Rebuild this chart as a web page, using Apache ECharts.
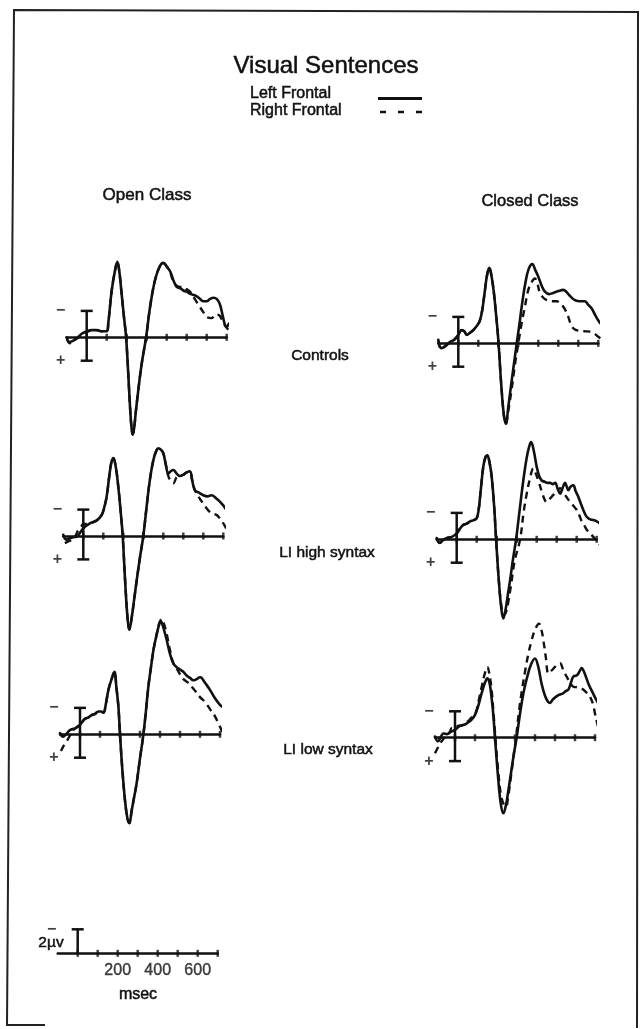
<!DOCTYPE html>
<html><head><meta charset="utf-8">
<script src="https://cdn.jsdelivr.net/npm/echarts@6/dist/echarts.min.js"></script>
<style>html,body{margin:0;padding:0;background:#fff}#c{width:642px;height:1029px}</style>
</head><body><div id="c"></div>
<script>
// ---- data: time (ms) vs amplitude (µV, negative plotted up) ----
const tickTimes = [0, 100, 200, 300, 400, 500, 600, 700];
const scaleLabels = [200, 400, 600];
const calBar = [-2.2, 1.95];     // calibration bar in each panel (µV)
const scaleBar = [-2, 0];        // 2 µV calibration in the scale key
const columns = ['Open Class', 'Closed Class'];
const rows = ['Controls', 'LI high syntax', 'LI low syntax'];
const seriesNames = ['Left Frontal', 'Right Frontal'];

const openControlsLeft = [[-100,0],[-85,0.4],[-70,0.3],[-50,0.1],[-25,-0.3],[0,-0.5],[25,-0.6],[50,-0.6],[75,-0.5],[100,-0.5],[108,-1.2],[125,-3.9],[142,-5.6],[153,-6.3],[163,-5.5],[173,-3.9],[185,-1.9],[197,0],[207,2.8],[217,5.9],[225,7.7],[230,8.1],[237,7.6],[245,6.3],[258,4.4],[275,2.2],[297,0],[317,-2.55],[342,-4.8],[365,-5.9],[383,-6.2],[400,-5.9],[417,-5.5],[435,-4.7],[450,-4.2],[467,-4.1],[483,-3.9],[500,-3.8],[520,-3.6],[540,-3.5],[560,-3.3],[583,-3.0],[600,-3.0],[617,-3.2],[635,-3.3],[650,-3.2],[665,-2.8],[680,-1.8],[692,-1.0],[700,-0.85],[710,-1.1],[725,-1.3],[750,-1.3]];
const openControlsRight = [[-100,0.1],[-85,0.5],[-70,0.3],[-50,0.1],[-25,-0.2],[0,-0.4],[25,-0.6],[50,-0.6],[75,-0.5],[100,-0.5],[108,-1.2],[125,-3.9],[142,-5.6],[153,-6.3],[163,-5.5],[173,-3.9],[185,-1.9],[197,0],[207,2.8],[217,5.9],[225,7.7],[230,8.1],[237,7.6],[245,6.3],[258,4.4],[275,2.2],[297,0],[317,-2.55],[342,-4.8],[365,-5.9],[383,-6.2],[400,-5.9],[417,-5.4],[435,-4.6],[450,-4.3],[467,-4.2],[483,-4.2],[500,-4.0],[517,-3.8],[540,-3.2],[567,-2.5],[583,-2.1],[600,-1.7],[625,-1.6],[645,-1.9],[665,-1.8],[680,-1.3],[700,-0.8],[720,-0.5],[750,-0.4]];

const closedControlsLeft = [[-100,-0.3],[-85,0.4],[-70,0.3],[-42,-0.1],[-20,-0.3],[0,-0.7],[17,-1.1],[30,-1.0],[42,-0.7],[60,-0.9],[75,-1.1],[95,-1.5],[108,-1.9],[120,-2.8],[133,-4.4],[145,-5.8],[155,-6.3],[166,-5.6],[178,-4.2],[190,-2.2],[200,-0.3],[215,3.5],[228,6.0],[238,6.7],[250,5.3],[267,3.1],[280,1.5],[292,0],[305,-1.5],[317,-3.05],[335,-5.0],[352,-6.2],[370,-6.6],[385,-6.1],[400,-5.55],[417,-4.8],[433,-4.3],[455,-4.1],[475,-4.2],[500,-4.35],[525,-4.45],[540,-4.3],[555,-4.0],[583,-3.6],[610,-3.5],[633,-3.5],[650,-3.2],[667,-2.9],[683,-2.4],[700,-1.9],[725,-1.4],[750,-1.1]];
const closedControlsRight = [[-100,-0.2],[-85,0.5],[-70,0.3],[-42,-0.1],[-20,-0.3],[0,-0.7],[17,-1.1],[30,-1.0],[42,-0.7],[60,-0.9],[75,-1.1],[95,-1.5],[108,-1.9],[120,-2.8],[133,-4.4],[145,-5.8],[155,-6.3],[166,-5.6],[178,-4.2],[190,-2.2],[200,-0.3],[215,3.5],[228,6.0],[238,6.7],[250,5.6],[267,3.8],[283,1.8],[300,0],[317,-1.7],[333,-3.05],[350,-4.45],[367,-5.1],[383,-5.4],[395,-5.0],[408,-4.2],[425,-3.8],[442,-3.6],[467,-3.5],[492,-3.5],[510,-3.3],[525,-3.05],[540,-2.6],[550,-2.2],[562,-1.6],[575,-1.25],[590,-1.1],[608,-1.05],[633,-1.0],[658,-0.97],[680,-0.8],[700,-0.55],[720,-0.3],[742,-0.1]];

const openHighLeft = [[-100,-0.1],[-85,0.3],[-70,0.2],[-50,0.1],[-33,0.05],[-15,-0.3],[0,-0.65],[33,-1.05],[67,-1.3],[92,-1.75],[105,-2.4],[117,-3.3],[130,-5.0],[140,-6.1],[150,-6.5],[162,-5.8],[175,-4.1],[187,-2.0],[197,0],[210,4.0],[222,7.0],[230,7.8],[242,6.8],[255,5.2],[267,3.7],[285,1.6],[300,0],[317,-2.5],[333,-4.7],[350,-6.3],[365,-7.1],[375,-7.3],[388,-7.2],[400,-6.9],[412,-6.0],[425,-5.2],[437,-5.4],[450,-5.5],[467,-5.2],[483,-5.0],[500,-5.1],[517,-5.3],[533,-5.4],[545,-4.6],[558,-3.8],[580,-3.6],[600,-3.4],[620,-3.3],[642,-3.4],[667,-3.1],[692,-2.7],[715,-2.2],[733,-1.75],[758,-1.7]];
const openHighRight = [[-92,0.6],[-75,0.45],[-58,0.33],[-40,0],[-25,-0.5],[-10,-0.8],[0,-1.0],[17,-1.0],[33,-1.05],[67,-1.3],[92,-1.75],[105,-2.4],[117,-3.3],[130,-5.0],[140,-6.1],[150,-6.5],[162,-5.8],[175,-4.1],[187,-2.0],[197,0],[210,4.0],[222,7.0],[230,7.8],[242,6.8],[255,5.2],[267,3.7],[285,1.6],[300,0],[317,-2.5],[333,-4.7],[350,-6.3],[365,-7.1],[375,-7.3],[388,-7.2],[400,-6.9],[412,-6.0],[425,-5.0],[437,-4.6],[450,-4.4],[467,-4.9],[483,-5.0],[500,-5.1],[517,-5.3],[533,-5.3],[545,-4.6],[558,-3.8],[567,-3.55],[583,-3.1],[600,-2.7],[617,-2.3],[633,-2.0],[650,-1.85],[667,-1.75],[685,-1.4],[700,-1.05],[720,-0.5],[742,0.05]];

const closedHighLeft = [[-100,-0.1],[-85,0.3],[-70,0.1],[-50,-0.1],[-25,-0.2],[0,-0.5],[17,-0.9],[33,-1.2],[50,-1.3],[67,-1.5],[85,-1.6],[100,-1.75],[110,-2.5],[117,-3.55],[125,-4.9],[133,-6.05],[143,-6.8],[153,-7.0],[163,-6.5],[175,-5.2],[187,-2.8],[197,0],[210,3.3],[222,5.6],[233,6.6],[245,5.8],[255,4.7],[267,3.4],[282,1.6],[297,0],[313,-2.2],[333,-4.9],[350,-6.8],[362,-7.7],[372,-8.1],[385,-7.4],[400,-6.05],[412,-5.3],[425,-4.9],[440,-4.8],[455,-4.7],[467,-4.7],[480,-4.6],[492,-4.7],[505,-4.2],[517,-3.8],[530,-4.3],[542,-4.7],[550,-4.4],[558,-4.1],[570,-4.4],[583,-4.5],[595,-4.0],[608,-3.55],[620,-3.0],[633,-2.45],[645,-2.0],[658,-1.75],[670,-1.65],[683,-1.6],[700,-1.5],[717,-1.3],[735,-1.0],[750,-0.8]];
const closedHighRight = [[-100,-0.1],[-85,0.3],[-70,0.1],[-50,-0.1],[-25,-0.2],[0,-0.5],[17,-0.9],[33,-1.2],[50,-1.3],[67,-1.5],[85,-1.6],[100,-1.75],[110,-2.5],[117,-3.55],[125,-4.9],[133,-6.05],[143,-6.8],[153,-7.0],[163,-6.5],[175,-5.2],[187,-2.8],[197,0],[210,3.3],[222,5.4],[235,6.3],[248,6.0],[258,5.2],[270,4.0],[290,1.8],[317,0],[335,-2.3],[350,-3.8],[367,-5.1],[383,-5.9],[395,-5.5],[408,-4.9],[425,-4.0],[440,-3.3],[450,-3.1],[467,-3.4],[483,-3.7],[500,-4.0],[517,-4.25],[530,-4.0],[550,-3.5],[567,-3.1],[583,-2.8],[600,-2.45],[613,-2.0],[625,-1.5],[640,-1.1],[650,-0.8],[667,-0.5],[683,-0.2],[700,0.15],[717,0.5],[735,0.9],[750,1.3]];

const openLowLeft = [[-100,-0.1],[-85,0.2],[-70,0],[-50,-0.35],[-25,-0.5],[0,-0.8],[25,-1.3],[42,-1.4],[58,-1.6],[75,-1.7],[92,-1.9],[105,-1.9],[117,-1.8],[130,-2.6],[142,-3.7],[158,-4.6],[172,-5.2],[182,-3.9],[192,-2.3],[200,0],[212,3.0],[225,5.5],[237,7.0],[247,7.4],[258,6.4],[270,5.3],[283,4.1],[300,2.0],[317,0],[330,-2.0],[342,-4.0],[355,-5.6],[367,-7.0],[383,-8.3],[397,-9.2],[405,-9.4],[415,-9.0],[425,-8.4],[433,-7.9],[450,-6.7],[467,-5.9],[483,-5.6],[500,-5.4],[517,-5.2],[533,-4.9],[550,-4.7],[567,-4.5],[583,-4.6],[600,-4.75],[608,-4.7],[625,-4.3],[650,-3.7],[675,-3.0],[700,-2.45],[715,-2.25],[725,-2.15],[740,-1.5],[750,-1.05]];
const openLowRight = [[-95,1.4],[-80,0.9],[-67,0.6],[-50,0.1],[-33,-0.35],[-15,-0.6],[0,-0.8],[25,-1.3],[42,-1.4],[58,-1.6],[75,-1.7],[92,-1.9],[105,-1.9],[117,-1.8],[130,-2.6],[142,-3.7],[158,-4.6],[172,-5.2],[182,-3.9],[192,-2.3],[200,0],[212,3.0],[225,5.5],[237,7.0],[247,7.4],[258,6.4],[270,5.3],[283,4.1],[300,2.0],[317,0],[330,-2.0],[342,-4.0],[355,-5.6],[367,-7.0],[383,-8.3],[397,-9.3],[410,-9.6],[420,-9.2],[433,-8.4],[450,-7.0],[467,-5.9],[483,-5.5],[500,-5.0],[517,-4.6],[540,-4.3],[567,-3.8],[600,-3.1],[625,-2.7],[650,-2.1],[675,-1.5],[692,-0.9],[708,-0.35],[725,0.2],[742,0.75]];

const closedLowLeft = [[-100,-0.1],[-85,0.3],[-70,-0.1],[-58,-0.35],[-40,-0.3],[-20,-0.5],[0,-0.65],[17,-0.9],[33,-1.05],[50,-1.1],[67,-1.3],[83,-1.5],[100,-1.9],[117,-2.7],[133,-3.7],[150,-4.6],[162,-4.95],[172,-4.6],[178,-4.0],[190,-2.2],[200,0],[213,2.8],[228,5.4],[242,6.3],[255,5.6],[265,4.6],[275,3.5],[292,1.6],[308,0],[325,-2.0],[342,-3.7],[360,-5.0],[380,-6.1],[400,-6.6],[415,-6.0],[433,-4.5],[450,-3.5],[465,-3.0],[475,-2.9],[490,-3.2],[517,-3.55],[540,-3.7],[555,-3.9],[567,-4.0],[580,-4.6],[592,-5.1],[610,-5.2],[625,-5.6],[633,-5.8],[645,-5.5],[667,-4.5],[690,-3.7],[708,-3.1],[725,-2.6],[742,-2.0]];
const closedLowRight = [[-100,1.3],[-88,0.9],[-75,0.5],[-58,0.1],[-42,-0.2],[-25,-0.5],[-17,-0.8],[0,-0.8],[17,-1.0],[33,-1.0],[50,-1.2],[67,-1.4],[83,-1.7],[100,-2.0],[108,-2.3],[120,-3.2],[133,-4.2],[150,-5.4],[162,-5.9],[172,-5.3],[183,-4.0],[192,-2.2],[202,0],[215,2.6],[230,4.8],[245,5.6],[255,5.75],[265,5.0],[277,3.6],[293,1.5],[305,0],[320,-2.2],[335,-4.0],[350,-5.5],[367,-7.0],[383,-8.1],[400,-9.0],[420,-9.5],[432,-9.0],[442,-8.1],[455,-6.6],[467,-5.35],[483,-5.6],[500,-5.9],[513,-6.1],[525,-6.2],[540,-5.7],[558,-5.1],[575,-4.6],[592,-4.25],[610,-4.2],[633,-4.1],[655,-3.8],[675,-3.4],[690,-2.8],[700,-2.0],[710,-1.3],[717,-0.9],[730,-1.3],[742,-1.6]];

const panelData = [
  [openControlsLeft, openControlsRight], [closedControlsLeft, closedControlsRight],
  [openHighLeft, openHighRight], [closedHighLeft, closedHighRight],
  [openLowLeft, openLowRight], [closedLowLeft, closedLowRight]
];

// ---- layout (pixels) ----
const PX_PER_UV = 12, YR = 10, XW = 160;
const layout = [
  {left: 66.7, axisY: 337.3}, {left: 438.3, axisY: 343.3},
  {left: 63.3, axisY: 536},   {left: 436.7, axisY: 539.3},
  {left: 60,   axisY: 734.3}, {left: 435,   axisY: 737.7},
  {left: 57.7, axisY: 953.3}  // scale key
];
const INK = '#111';
const FONT = "'Liberation Sans', Arial, Helvetica, sans-serif";

const grid = [], xAxis = [], yAxis = [], series = [];
layout.forEach((g, i) => {
  const isKey = i === 6;
  grid.push({left: g.left, top: g.axisY - YR * PX_PER_UV, width: XW, height: 2 * YR * PX_PER_UV, outerBoundsMode: 'none', containLabel: false});
  xAxis.push({
    gridIndex: i, type: 'value', min: -100, max: 700, interval: 100,
    axisLine: {show: true, onZero: true, lineStyle: {color: INK, width: 2.5}},
    axisTick: {show: false}, splitLine: {show: false}, axisLabel: {show: false}
  });
  yAxis.push({gridIndex: i, type: 'value', min: -YR, max: YR, inverse: true, show: false});

  // tick marks
  series.push({type: 'scatter', xAxisIndex: i, yAxisIndex: i, silent: true, z: 4,
    data: tickTimes.map(t => [t, 0]), symbol: 'rect', symbolSize: [2.5, 7],
    itemStyle: {color: INK}});
  // calibration bar
  const bar = isKey ? scaleBar : calBar;
  series.push({type: 'custom', xAxisIndex: i, yAxisIndex: i, silent: true, z: 5,
    data: [[0, bar[0], bar[1], isKey ? 0 : 1]],
    renderItem: (params, api) => {
      const a = api.coord([api.value(0), api.value(1)]);
      const b = api.coord([api.value(0), api.value(2)]);
      const st = {stroke: INK, lineWidth: 2.5};
      const ch = [
        {type: 'line', shape: {x1: a[0], y1: a[1], x2: b[0], y2: b[1]}, style: st},
        {type: 'line', shape: {x1: a[0] - 6, y1: a[1], x2: a[0] + 6, y2: a[1]}, style: st}
      ];
      if (api.value(3)) ch.push({type: 'line', shape: {x1: b[0] - 6, y1: b[1], x2: b[0] + 6, y2: b[1]}, style: st});
      return {type: 'group', children: ch};
    }});
  // polarity signs
  const signs = isKey ? [{name: '\u2212', value: [-100, bar[0]]}]
                      : [{name: '\u2212', value: [-100, bar[0]]}, {name: '+', value: [-100, bar[1]]}];
  series.push({type: 'scatter', xAxisIndex: i, yAxisIndex: i, silent: true, symbolSize: 0, data: signs,
    label: {show: true, position: 'inside', offset: [-6, 0], formatter: '{b}', color: INK,
      fontSize: 16, fontWeight: 'bold', fontFamily: FONT}});

  if (isKey) {
    // time labels of the scale key
    series.push({type: 'scatter', xAxisIndex: i, yAxisIndex: i, silent: true, symbolSize: 0,
      data: scaleLabels.map(v => ({name: String(v), value: [v, 0]})),
      label: {show: true, position: 'inside', offset: [0, 17], formatter: '{b}', color: INK,
        fontSize: 16, fontFamily: FONT, textBorderColor: INK, textBorderWidth: 0.4}});
  } else {
    const [L, R] = panelData[i];
    series.push({type: 'line', name: seriesNames[0], xAxisIndex: i, yAxisIndex: i, data: L,
      symbol: 'none', smooth: 0.4, clip: false, z: 3,
      lineStyle: {color: INK, width: 2.6, type: 'solid', cap: 'round', join: 'round'}});
    series.push({type: 'line', name: seriesNames[1], xAxisIndex: i, yAxisIndex: i, data: R,
      symbol: 'none', smooth: 0.4, clip: false, z: 3,
      lineStyle: {color: INK, width: 2.4, type: [7, 5]}});
  }
});

const txt = (text, x, y, size, weight, align) => ({type: 'text', silent: true,
  style: {text, x, y, fill: INK, stroke: INK, lineWidth: 0.5,
    font: (weight || 'normal') + ' ' + size + 'px ' + FONT,
    textAlign: align || 'center', textVerticalAlign: 'middle'}});

const graphic = [
  {type: 'polyline', silent: true, shape: {points: [[45, 1025], [7, 1025], [14, 10], [638, 12], [637, 1028]]},
    style: {stroke: '#222', lineWidth: 2, fill: null}},
  txt('Visual Sentences', 326, 66, 24),
  txt(seriesNames[0], 250, 94, 16, 'normal', 'left'),
  txt(seriesNames[1], 250, 111, 16, 'normal', 'left'),
  {type: 'line', silent: true, shape: {x1: 378, y1: 98.5, x2: 422, y2: 98.5}, style: {stroke: INK, lineWidth: 3}},
  {type: 'line', silent: true, shape: {x1: 380, y1: 112, x2: 422, y2: 112}, style: {stroke: INK, lineWidth: 2.5, lineDash: [6, 12]}},
  txt(columns[0], 147, 195, 17),
  txt(columns[1], 530, 201, 16.5),
  txt(rows[0], 320, 356, 15.5),
  txt(rows[1], 327, 553, 15.5),
  txt(rows[2], 328, 750, 15.5),
  txt('2\u00b5v', 51, 943, 15.5),
  txt('msec', 138, 995, 16)
];

const chart = echarts.init(document.getElementById('c'), null, {renderer: 'canvas'});
chart.setOption({animation: false, backgroundColor: '#fff', grid, xAxis, yAxis, series, graphic});
</script></body></html>
